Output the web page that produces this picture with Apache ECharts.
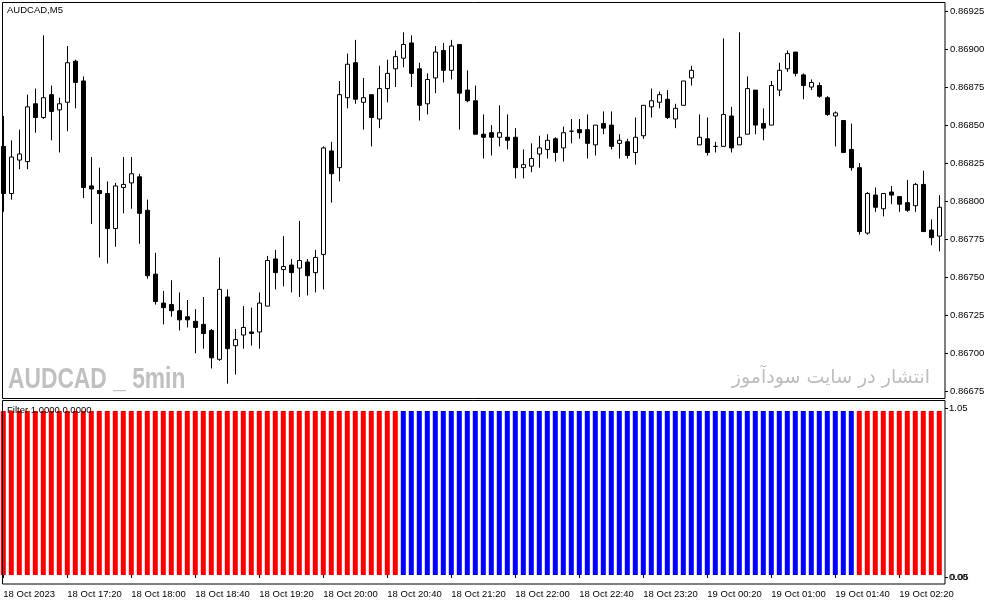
<!DOCTYPE html>
<html><head><meta charset="utf-8">
<script src="https://cdn.jsdelivr.net/npm/echarts@6/dist/echarts.min.js"></script>
<style>html,body{margin:0;padding:0;background:#fff;overflow:hidden}#c{width:991px;height:605px}</style>
</head><body><div id="c"></div>
<script>
// ---- data ----
const symbolTitle = 'AUDCAD,M5';
const indicatorTitle = 'Filter 1.0000 0.0000';
const tickLabels = ['18 Oct 2023','18 Oct 17:20','18 Oct 18:00','18 Oct 18:40','18 Oct 19:20','18 Oct 20:00','18 Oct 20:40','18 Oct 21:20','18 Oct 22:00','18 Oct 22:40','18 Oct 23:20','19 Oct 00:20','19 Oct 01:00','19 Oct 01:40','19 Oct 02:20'];
const priceTicks = { min: 0.86675, max: 0.86925, step: 0.00025 };

const open = [
0.86836,0.86805,0.86827,0.86826,0.86864,0.86855,0.86870,0.86860,0.86865,0.86892,
0.86879,0.86810,0.86807,0.86805,0.86782,0.86809,0.86812,0.86816,0.86794,0.86752,
0.86733,0.86732,0.86728,0.86724,0.86721,0.86719,0.86715,0.86696,0.86737,0.86705,
0.86712,0.86714,0.86714,0.86731,0.86762,0.86755,0.86758,0.86756,0.86760,0.86753,
0.86765,0.86833,0.86822,0.86868,0.86891,0.86865,0.86870,0.86854,0.86874,0.86887,
0.86894,0.86904,0.86887,0.86864,0.86881,0.86899,0.86886,0.86903,0.86873,0.86866,
0.86844,0.86845,0.86842,0.86842,0.86842,0.86822,0.86823,0.86831,0.86834,0.86841,
0.86835,0.86846,0.86847,0.86847,0.86837,0.86851,0.86850,0.86838,0.86839,0.86832,
0.86843,0.86862,0.86865,0.86867,0.86854,0.86863,0.86881,0.86837,0.86841,0.86836,
0.86836,0.86856,0.86837,0.86844,0.86873,0.86851,0.86850,0.86873,0.86887,0.86898,
0.86883,0.86875,0.86876,0.86868,0.86856,0.86853,0.86834,0.86822,0.86779,0.86804,
0.86795,0.86806,0.86803,0.86799,0.86797,0.86811,0.86781,0.86777];
const high = [
0.86856,0.86840,0.86847,0.86870,0.86874,0.86909,0.86876,0.86868,0.86902,0.86893,
0.86882,0.86829,0.86822,0.86813,0.86812,0.86829,0.86829,0.86818,0.86801,0.86766,
0.86741,0.86748,0.86740,0.86735,0.86729,0.86737,0.86716,0.86763,0.86742,0.86716,
0.86731,0.86730,0.86740,0.86764,0.86768,0.86777,0.86762,0.86787,0.86762,0.86768,
0.86836,0.86839,0.86879,0.86897,0.86906,0.86881,0.86870,0.86889,0.86893,0.86899,
0.86911,0.86909,0.86891,0.86884,0.86902,0.86904,0.86906,0.86903,0.86886,0.86876,
0.86857,0.86850,0.86863,0.86857,0.86848,0.86834,0.86838,0.86843,0.86844,0.86842,
0.86849,0.86854,0.86854,0.86857,0.86850,0.86859,0.86859,0.86844,0.86841,0.86855,
0.86863,0.86874,0.86872,0.86873,0.86864,0.86879,0.86889,0.86857,0.86855,0.86839,
0.86907,0.86862,0.86911,0.86882,0.86873,0.86861,0.86879,0.86891,0.86899,0.86898,
0.86884,0.86880,0.86878,0.86869,0.86859,0.86853,0.86851,0.86825,0.86806,0.86809,
0.86805,0.86810,0.86803,0.86814,0.86812,0.86820,0.86788,0.86804];
const low = [
0.86793,0.86801,0.86821,0.86821,0.86845,0.86854,0.86840,0.86832,0.86846,0.86861,
0.86802,0.86785,0.86763,0.86759,0.86770,0.86792,0.86795,0.86772,0.86749,0.86732,
0.86719,0.86724,0.86715,0.86717,0.86700,0.86703,0.86690,0.86695,0.86680,0.86686,
0.86703,0.86705,0.86703,0.86731,0.86742,0.86744,0.86740,0.86737,0.86738,0.86740,
0.86742,0.86799,0.86813,0.86861,0.86864,0.86847,0.86836,0.86848,0.86865,0.86875,
0.86888,0.86875,0.86853,0.86857,0.86871,0.86878,0.86880,0.86847,0.86865,0.86844,
0.86828,0.86830,0.86836,0.86834,0.86815,0.86815,0.86819,0.86822,0.86828,0.86826,
0.86826,0.86838,0.86841,0.86828,0.86830,0.86844,0.86834,0.86828,0.86828,0.86824,
0.86841,0.86855,0.86861,0.86854,0.86848,0.86863,0.86876,0.86837,0.86830,0.86832,
0.86836,0.86832,0.86837,0.86844,0.86844,0.86840,0.86850,0.86869,0.86885,0.86882,
0.86867,0.86873,0.86868,0.86856,0.86836,0.86832,0.86820,0.86778,0.86778,0.86793,
0.86790,0.86798,0.86793,0.86793,0.86793,0.86780,0.86771,0.86767];
const close = [
0.86805,0.86829,0.86831,0.86862,0.86855,0.86868,0.86859,0.86864,0.86891,0.86878,
0.86809,0.86808,0.86805,0.86782,0.86810,0.86811,0.86818,0.86792,0.86751,0.86734,
0.86730,0.86728,0.86722,0.86722,0.86717,0.86713,0.86697,0.86742,0.86703,0.86709,
0.86717,0.86713,0.86733,0.86761,0.86753,0.86757,0.86753,0.86761,0.86751,0.86763,
0.86835,0.86818,0.86870,0.86890,0.86867,0.86868,0.86855,0.86874,0.86884,0.86895,
0.86903,0.86884,0.86863,0.86880,0.86898,0.86886,0.86902,0.86871,0.86866,0.86844,
0.86842,0.86842,0.86845,0.86840,0.86822,0.86824,0.86828,0.86835,0.86840,0.86832,
0.86845,0.86846,0.86845,0.86838,0.86850,0.86848,0.86836,0.86840,0.86830,0.86842,
0.86863,0.86866,0.86870,0.86855,0.86861,0.86879,0.86886,0.86842,0.86832,0.86836,
0.86857,0.86835,0.86842,0.86874,0.86850,0.86848,0.86876,0.86886,0.86897,0.86884,
0.86876,0.86878,0.86869,0.86857,0.86858,0.86832,0.86822,0.86780,0.86805,0.86796,
0.86805,0.86804,0.86798,0.86794,0.86811,0.86780,0.86776,0.86796];
// Filter indicator buffers (red = buffer 1, blue = buffer 2)
const filterRed = [
1,1,1,1,1,1,1,1,1,1, 1,1,1,1,1,1,1,1,1,1, 1,1,1,1,1,1,1,1,1,1, 1,1,1,1,1,1,1,1,1,1, 1,1,1,1,1,1,1,1,1,1,
0,0,0,0,0,0,0,0,0,0, 0,0,0,0,0,0,0,0,0,0, 0,0,0,0,0,0,0,0,0,0, 0,0,0,0,0,0,0,0,0,0, 0,0,0,0,0,0,0,0,0,0, 0,0,0,0,0,0,0,
1,1,1,1,1,1,1,1,1,1,1];
const filterBlue = [
0,0,0,0,0,0,0,0,0,0, 0,0,0,0,0,0,0,0,0,0, 0,0,0,0,0,0,0,0,0,0, 0,0,0,0,0,0,0,0,0,0, 0,0,0,0,0,0,0,0,0,0,
1,1,1,1,1,1,1,1,1,1, 1,1,1,1,1,1,1,1,1,1, 1,1,1,1,1,1,1,1,1,1, 1,1,1,1,1,1,1,1,1,1, 1,1,1,1,1,1,1,1,1,1, 1,1,1,1,1,1,1,
0,0,0,0,0,0,0,0,0,0,0];
const watermarkLeft = 'AUDCAD _ 5min';
const watermarkRight = 'انتشار در سایت سودآموز';

// ---- chart ----
const FONT = '"Liberation Sans", Arial, sans-serif';
const idx = open.map((_, i) => i);
const ohlc = open.map((o, i) => [o, close[i], low[i], high[i]]);
const chart = echarts.init(document.getElementById('c'), null, { renderer: 'canvas' });
const txt = (text, x, y, extra, el) => Object.assign({
  type: 'text', x: x, y: y, z: 50, silent: true,
  style: Object.assign({ text: text, fill: '#000', font: '9.5px ' + FONT, textVerticalAlign: 'middle' }, extra || {})
}, el || {});
chart.setOption({
  animation: false,
  backgroundColor: '#ffffff',
  grid: [
    { left: -0.7, top: 11, width: 944, height: 380.3, outerBoundsMode: 'none', containLabel: false },
    { left: -0.7, top: 411, width: 944, height: 164, outerBoundsMode: 'none', containLabel: false }
  ],
  xAxis: [
    { type: 'category', gridIndex: 0, data: idx, show: false, boundaryGap: true },
    { type: 'category', gridIndex: 1, data: idx, boundaryGap: true, offset: 9,
      axisLine: { show: false },
      axisTick: { show: true, interval: 7, alignWithLabel: true, length: 3, lineStyle: { color: '#000', width: 1 } },
      axisLabel: { interval: 7, align: 'left', margin: 5, color: '#000', fontFamily: FONT, fontSize: 9.5,
        formatter: (v, i) => tickLabels[i / 8] || '' },
      splitLine: { show: false } }
  ],
  yAxis: [
    { type: 'value', gridIndex: 0, position: 'right', min: priceTicks.min, max: priceTicks.max, interval: priceTicks.step,
      offset: 1.7, scale: true,
      axisLine: { show: false }, splitLine: { show: false },
      axisTick: { show: true, length: 3, lineStyle: { color: '#000', width: 1 } },
      axisLabel: { margin: 5, color: '#000', fontFamily: FONT, fontSize: 9.5, formatter: v => v.toFixed(5) } },
    { type: 'value', gridIndex: 1, min: 0, max: 1, show: false }
  ],
  series: [
    { type: 'candlestick', xAxisIndex: 0, yAxisIndex: 0, data: ohlc, barWidth: 4,
      itemStyle: { color: '#ffffff', color0: '#000000', borderColor: '#000000', borderColor0: '#000000', borderColorDoji: '#000000', borderWidth: 1 } },
    { type: 'bar', xAxisIndex: 1, yAxisIndex: 1, data: filterRed, barWidth: 5, barGap: '-100%',
      itemStyle: { color: '#ff0000' } },
    { type: 'bar', xAxisIndex: 1, yAxisIndex: 1, data: filterBlue, barWidth: 5, barGap: '-100%',
      itemStyle: { color: '#0000ff' } }
  ],
  graphic: [
    { type: 'rect', z: 60, silent: true, shape: { x: 2.5, y: 2.5, width: 942.5, height: 396 }, style: { fill: 'none', stroke: '#000', lineWidth: 1 } },
    { type: 'rect', z: 60, silent: true, shape: { x: 2.5, y: 400.5, width: 942.5, height: 183.5 }, style: { fill: 'none', stroke: '#000', lineWidth: 1 } },
    txt(symbolTitle, 7, 10),
    txt(indicatorTitle, 7, 410),
    txt('1.05', 949, 408),
    txt('0.00', 949, 577),
    txt('0.05', 950, 577),
    { type: 'line', z: 60, silent: true, shape: { x1: 945, y1: 408.5, x2: 948, y2: 408.5 }, style: { stroke: '#000', lineWidth: 1 } },
    { type: 'line', z: 60, silent: true, shape: { x1: 945, y1: 577.5, x2: 948, y2: 577.5 }, style: { stroke: '#000', lineWidth: 1 } },
    txt(watermarkLeft, 8, 380, { fill: '#c0c0c0', font: 'bold 30px "Liberation Sans", sans-serif' }, { scaleX: 0.76 }),
    txt(watermarkRight, 930, 378, { fill: '#bdbdbd', font: '19px "DejaVu Sans", sans-serif', textAlign: 'right' })
  ]
});
</script></body></html>
